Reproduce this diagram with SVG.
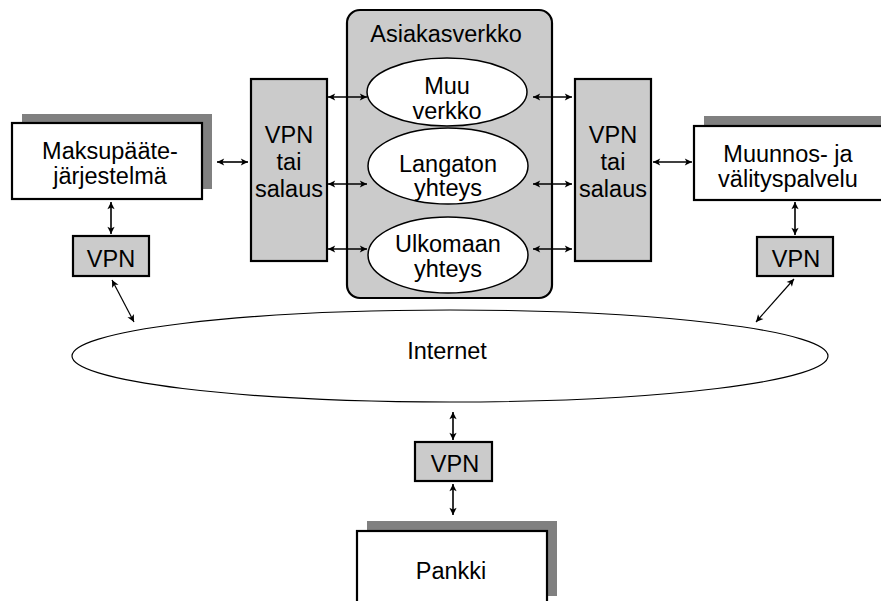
<svg xmlns="http://www.w3.org/2000/svg" width="881" height="601" viewBox="0 0 881 601">
<style>
text{font-family:"Liberation Sans",Arial,sans-serif;font-size:23.5px;fill:#000;text-anchor:middle}
.box{fill:#fff;stroke:#000;stroke-width:2.2}
.shadow{fill:#808080;stroke:none}
.gray{fill:#cbcbcb;stroke:#000;stroke-width:2.2}
.ell{fill:#fff;stroke:#000;stroke-width:1.5}
.con{stroke:#000;stroke-width:1.6;fill:none;marker-start:url(#ah);marker-end:url(#ah)}
.thin{stroke-width:1.2}
</style>
<defs>
<marker id="ah" viewBox="0 0 10 10" refX="9" refY="5" markerWidth="9" markerHeight="9" markerUnits="userSpaceOnUse" orient="auto-start-reverse">
<path d="M1,1 L9,5 L1,9 L3,5 z" fill="#000"/>
</marker>
</defs>

<g id="internet">
<ellipse cx="450" cy="356" rx="378" ry="46" fill="#fff" stroke="#000" stroke-width="1.2"/>
<text x="447" y="359">Internet</text>
</g>

<g id="asiakasverkko">
<rect x="347" y="10" width="205" height="288" rx="13" ry="13" class="gray"/>
<text x="446" y="42">Asiakasverkko</text>
</g>

<g id="muu-verkko">
<ellipse cx="447" cy="92" rx="80" ry="34" class="ell"/>
<text x="447" y="94">Muu</text>
<text x="447" y="119">verkko</text>
</g>

<g id="langaton">
<ellipse cx="448" cy="166" rx="80" ry="38" class="ell"/>
<text x="448" y="172">Langaton</text>
<text x="448" y="196">yhteys</text>
</g>

<g id="ulkomaan">
<ellipse cx="448" cy="255" rx="80" ry="38" class="ell"/>
<text x="448" y="252">Ulkomaan</text>
<text x="448" y="277">yhteys</text>
</g>

<g id="vpn-salaus-left">
<rect x="251" y="79" width="76" height="182" class="gray"/>
<text x="289" y="143">VPN</text>
<text x="289" y="170">tai</text>
<text x="289" y="197">salaus</text>
</g>

<g id="vpn-salaus-right">
<rect x="575" y="79" width="76" height="182" class="gray"/>
<text x="613" y="143">VPN</text>
<text x="613" y="170">tai</text>
<text x="613" y="197">salaus</text>
</g>

<g id="maksupaate">
<rect x="22" y="114" width="190" height="75" class="shadow"/>
<rect x="12" y="123" width="190" height="76" class="box"/>
<text x="110" y="159">Maksupääte-</text>
<text x="110" y="184">järjestelmä</text>
</g>

<g id="muunnos">
<rect x="704" y="116" width="190" height="75" class="shadow"/>
<rect x="694" y="126" width="200" height="74" class="box"/>
<text x="788" y="162">Muunnos- ja</text>
<text x="788" y="187">välityspalvelu</text>
</g>

<g id="vpn-left">
<rect x="73" y="236" width="76" height="40" class="gray"/>
<text x="111" y="267">VPN</text>
</g>

<g id="vpn-right">
<rect x="757" y="237" width="76" height="39" class="gray"/>
<text x="796" y="267">VPN</text>
</g>

<g id="vpn-bottom">
<rect x="415" y="442" width="77" height="39" class="gray"/>
<text x="455" y="472">VPN</text>
</g>

<g id="pankki">
<rect x="367" y="521" width="190" height="75" class="shadow"/>
<rect x="357" y="531" width="190" height="80" class="box"/>
<text x="451" y="579">Pankki</text>
</g>

<g id="connectors">
<line x1="217" y1="162" x2="248" y2="162" class="con"/>
<line x1="653" y1="162" x2="692" y2="162" class="con"/>
<line x1="111" y1="202" x2="111" y2="234" class="con"/>
<line x1="795" y1="202" x2="795" y2="235" class="con"/>
<line x1="328" y1="97" x2="367" y2="97" class="con"/>
<line x1="328" y1="184" x2="367" y2="184" class="con"/>
<line x1="328" y1="249" x2="367" y2="249" class="con"/>
<line x1="533" y1="97" x2="572" y2="97" class="con"/>
<line x1="533" y1="184" x2="572" y2="184" class="con"/>
<line x1="533" y1="249" x2="572" y2="249" class="con"/>
<line x1="112" y1="280" x2="134" y2="322" class="con thin"/>
<line x1="794" y1="279" x2="756" y2="322" class="con thin"/>
<line x1="453" y1="412" x2="453" y2="440" class="con"/>
<line x1="453" y1="484" x2="453" y2="515" class="con"/>
</g>
</svg>
